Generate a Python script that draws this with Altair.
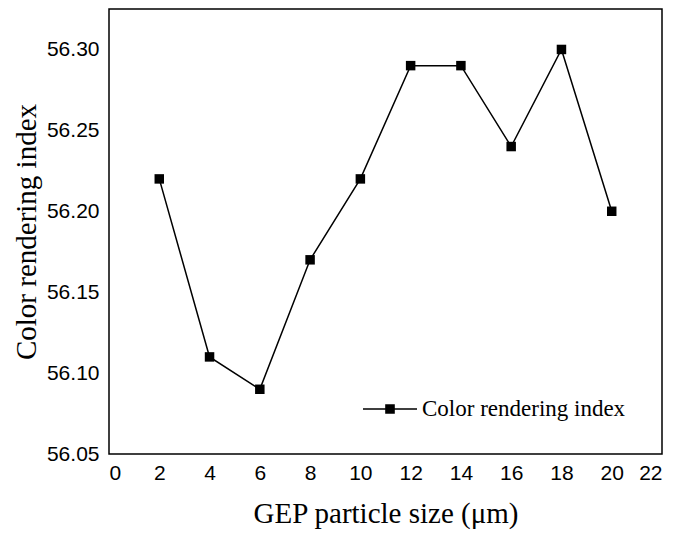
import altair as alt
import pandas as pd

sizes = [2, 4, 6, 8, 10, 12, 14, 16, 18, 20]
cri = [56.22, 56.11, 56.09, 56.17, 56.22, 56.29, 56.29, 56.24, 56.30, 56.20]
series_name = "Color rendering index"

df = pd.DataFrame({"size": sizes, "cri": cri, "series": [series_name] * len(sizes)})

x = alt.X("size:Q", title="GEP particle size (\u03bcm)",
          scale=alt.Scale(domain=[0, 22], nice=False),
          axis=alt.Axis(values=list(range(0, 23, 2)), ticks=False, grid=False, domain=False,
                        labelFont="Liberation Sans", labelFontSize=21, labelColor="black",
                        labelPadding=8, titleFont="Liberation Serif", titleFontSize=29,
                        titleFontWeight="normal", titleColor="black", titlePadding=16))
y = alt.Y("cri:Q", title="Color rendering index",
          scale=alt.Scale(domain=[56.05, 56.325], nice=False, zero=False),
          axis=alt.Axis(values=[56.05, 56.10, 56.15, 56.20, 56.25, 56.30], format=".2f",
                        ticks=False, grid=False, domain=False,
                        labelFont="Liberation Sans", labelFontSize=21, labelColor="black",
                        labelPadding=10, titleFont="Liberation Serif", titleFontSize=29,
                        titleFontWeight="normal", titleColor="black", titlePadding=5))

color = alt.Color("series:N", scale=alt.Scale(range=["black"]),
                  legend=alt.Legend(title=None, orient="none", legendX=253, legendY=372,
                                    symbolType="M-1,0H-0.15M0.15,0H1M-0.15,-0.15H0.15V0.15H-0.15Z",
                                    symbolSize=2916, symbolStrokeWidth=1.5,
                                    symbolFillColor="black", symbolStrokeColor="black",
                                    labelFont="Liberation Serif", labelFontSize=23,
                                    labelColor="black", labelOffset=4, labelLimit=400))

line = alt.Chart(df).mark_line(strokeWidth=1.5, color="black").encode(x=x, y=y, color=color)
pts = alt.Chart(df).mark_point(shape="square", size=90, filled=True, opacity=1,
                               color="black").encode(x=x, y=y)

chart = (line + pts).properties(
    width=553, height=445,
    background="white",
    padding={"left": 109, "top": 9, "right": 30, "bottom": 82},
    autosize=alt.AutoSizeParams(type="none"),
).configure_view(stroke="black", strokeWidth=1.5)

chart.save("out.html", embed_options={"renderer": "svg", "actions": False})
